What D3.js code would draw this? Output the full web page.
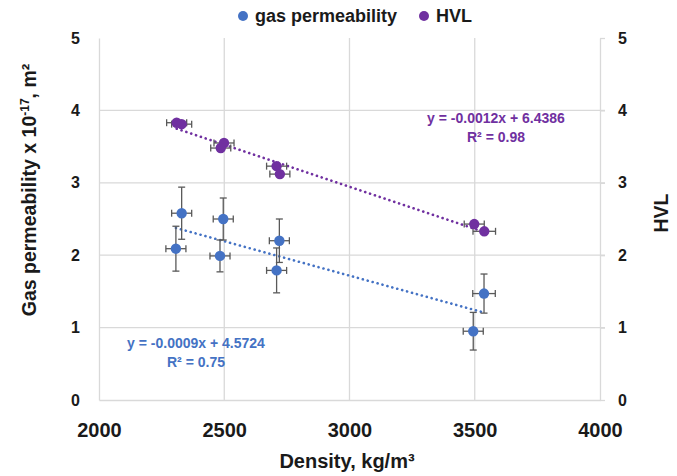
<!DOCTYPE html>
<html>
<head>
<meta charset="utf-8">
<script src="https://cdn.jsdelivr.net/npm/d3@7"></script>
<style>
  body { margin: 0; background: #fff; }
  text { font-family: "Liberation Sans", Arial, sans-serif; font-weight: bold; }
</style>
</head>
<body>
<div id="viz"></div>
<script>
// gas permeability series (x 10^-17 m2)
var gasDensity = [2330, 2307, 2496, 2483, 2720, 2709, 3537, 3494];
var gasPerm = [2.58, 2.09, 2.50, 1.99, 2.20, 1.79, 1.47, 0.95];
var gasPermErr = [0.36, 0.31, 0.29, 0.22, 0.30, 0.31, 0.27, 0.26];
var gasDensityErr = [40, 40, 40, 40, 40, 40, 45, 40];

// HVL series
var hvlDensity = [2310, 2330, 2499, 2486, 2709, 2722, 3498, 3538];
var hvl = [3.83, 3.81, 3.55, 3.48, 3.23, 3.12, 2.43, 2.33];
var hvlDensityErr = [40, 40, 40, 40, 40, 40, 40, 45];

// tick values and labels
var xTicks = [2000, 2500, 3000, 3500, 4000];
var yTicks = [0, 1, 2, 3, 4, 5];
var seriesNames = ["gas permeability", "HVL"];
var eqLabels = [["y = -0.0009x + 4.5724", "R² = 0.75"], ["y = -0.0012x + 6.4386", "R² = 0.98"]];

var colors = ["#4472C4", "#7030A0"];
var gridColor = "#d9d9d9";

var W = 677, H = 476;
var svg = d3.select("#viz")
  .append("svg")
  .attr("width", W)
  .attr("height", H);

// scales (both y axes share the 0-5 range)
var x = d3.scaleLinear().domain([2000, 4000]).range([99, 600]);
var yL = d3.scaleLinear().domain([0, 5]).range([400, 38]);
var yR = d3.scaleLinear().domain([0, 5]).range([400, 38]);

// horizontal gridlines (no line at the top)
svg.append("g")
  .selectAll("line")
  .data(yTicks.filter(d => d > 0 && d < 5))
  .enter().append("line")
  .attr("x1", x(2000)).attr("x2", x(4000) + 5)
  .attr("y1", d => yL(d)).attr("y2", d => yL(d))
  .attr("stroke", gridColor).attr("stroke-width", 1.3);

// vertical gridlines
svg.append("g")
  .selectAll("line")
  .data(xTicks.filter(d => d > 2000 && d < 4000))
  .enter().append("line")
  .attr("x1", d => x(d)).attr("x2", d => x(d))
  .attr("y1", yL(5)).attr("y2", yL(0))
  .attr("stroke", gridColor).attr("stroke-width", 1.3);

// axes
var xAxis = svg.append("g")
  .attr("transform", "translate(0," + yL(0) + ")")
  .call(d3.axisBottom(x).tickValues(xTicks).tickSize(0).tickPadding(23).tickFormat(d3.format("d")));
var yAxisL = svg.append("g")
  .attr("transform", "translate(" + x(2000) + ",0)")
  .call(d3.axisLeft(yL).tickValues(yTicks).tickSize(0).tickPadding(19).tickFormat(d3.format("d")));
var yAxisR = svg.append("g")
  .attr("transform", "translate(" + x(4000) + ",0)")
  .call(d3.axisRight(yR).tickValues(yTicks).tickSize(5).tickSizeOuter(0).tickPadding(13).tickFormat(d3.format("d")));

[xAxis, yAxisL, yAxisR].forEach(function(g) {
  g.select(".domain").attr("stroke", gridColor).attr("stroke-width", 1.3);
  g.selectAll(".tick line").attr("stroke", gridColor).attr("stroke-width", 1.3);
  g.selectAll(".tick text")
    .attr("fill", "#1a1a1a")
    .style("font-size", "16px")
    .style("font-family", "'Liberation Sans', Arial, sans-serif")
    .style("font-weight", "bold");
});
// density labels are set larger than the y labels
xAxis.selectAll(".tick text").style("font-size", "20px");

// axis titles
svg.append("text")
  .attr("x", 347).attr("y", 468)
  .attr("text-anchor", "middle")
  .attr("fill", "#1a1a1a")
  .style("font-size", "20px")
  .text("Density, kg/m³");

var yTitle = svg.append("text")
  .attr("transform", "translate(36,190) rotate(-90)")
  .attr("text-anchor", "middle")
  .attr("fill", "#1a1a1a")
  .style("font-size", "19.5px");
yTitle.append("tspan").text("Gas permeability x 10");
yTitle.append("tspan").attr("dy", -7).style("font-size", "12px").text("-17");
yTitle.append("tspan").attr("dy", 7).text(", m²");

svg.append("text")
  .attr("transform", "translate(668,213) rotate(-90)")
  .attr("text-anchor", "middle")
  .attr("fill", "#1a1a1a")
  .style("font-size", "19.5px")
  .text("HVL");

// least squares fit from the data
function fit(xs, ys) {
  var mx = d3.mean(xs), my = d3.mean(ys);
  var sxy = d3.sum(xs, (v, i) => (v - mx) * (ys[i] - my));
  var sxx = d3.sum(xs, v => (v - mx) * (v - mx));
  var b = sxy / sxx;
  return { slope: b, icpt: my - b * mx };
}

var series = [
  { xs: gasDensity, ys: gasPerm, yErr: gasPermErr, xErr: gasDensityErr, y: yL, color: colors[0] },
  { xs: hvlDensity, ys: hvl, yErr: null, xErr: hvlDensityErr, y: yR, color: colors[1] }
];

// trendlines
series.forEach(function(s) {
  var f = fit(s.xs, s.ys);
  var x0 = d3.min(s.xs), x1 = d3.max(s.xs);
  svg.append("line")
    .attr("x1", x(x0)).attr("y1", s.y(f.icpt + f.slope * x0))
    .attr("x2", x(x1)).attr("y2", s.y(f.icpt + f.slope * x1))
    .attr("stroke", s.color)
    .attr("stroke-width", 2.6)
    .attr("stroke-linecap", "round")
    .attr("stroke-dasharray", "0.1,5");
});

// error bars and points
series.forEach(function(s) {
  var g = svg.append("g");
  var pts = s.xs.map((v, i) => ({ x: v, y: s.ys[i], ex: s.xErr[i], ey: s.yErr ? s.yErr[i] : 0 }));
  var eb = g.append("g").attr("stroke", "#595959").attr("stroke-width", 1.3);
  pts.forEach(function(p) {
    var cx = x(p.x), cy = s.y(p.y);
    // horizontal bar
    eb.append("line").attr("x1", x(p.x - p.ex)).attr("x2", x(p.x + p.ex)).attr("y1", cy).attr("y2", cy);
    eb.append("line").attr("x1", x(p.x - p.ex)).attr("x2", x(p.x - p.ex)).attr("y1", cy - 3.5).attr("y2", cy + 3.5);
    eb.append("line").attr("x1", x(p.x + p.ex)).attr("x2", x(p.x + p.ex)).attr("y1", cy - 3.5).attr("y2", cy + 3.5);
    // vertical bar
    if (p.ey) {
      var ya = s.y(p.y + p.ey), yb = s.y(p.y - p.ey);
      eb.append("line").attr("x1", cx).attr("x2", cx).attr("y1", ya).attr("y2", yb);
      eb.append("line").attr("x1", cx - 3.5).attr("x2", cx + 3.5).attr("y1", ya).attr("y2", ya);
      eb.append("line").attr("x1", cx - 3.5).attr("x2", cx + 3.5).attr("y1", yb).attr("y2", yb);
    }
  });
  g.selectAll("circle")
    .data(pts)
    .enter().append("circle")
    .attr("cx", d => x(d.x))
    .attr("cy", d => s.y(d.y))
    .attr("r", 5.2)
    .attr("fill", s.color);
});

// trendline equations
var eqPos = [{ x: 196, y: 348 }, { x: 496, y: 123 }];
eqLabels.forEach(function(lines, i) {
  lines.forEach(function(t, j) {
    svg.append("text")
      .attr("x", eqPos[i].x)
      .attr("y", eqPos[i].y + j * 19)
      .attr("text-anchor", "middle")
      .attr("fill", colors[i])
      .style("font-size", "14px")
      .text(t);
  });
});

// legend
var legendX = [243, 424];
seriesNames.forEach(function(name, i) {
  svg.append("circle")
    .attr("cx", legendX[i]).attr("cy", 16)
    .attr("r", 5)
    .attr("fill", colors[i]);
  svg.append("text")
    .attr("x", legendX[i] + 12).attr("y", 22)
    .attr("fill", "#1a1a1a")
    .style("font-size", "18px")
    .text(name);
});
</script>
</body>
</html>
